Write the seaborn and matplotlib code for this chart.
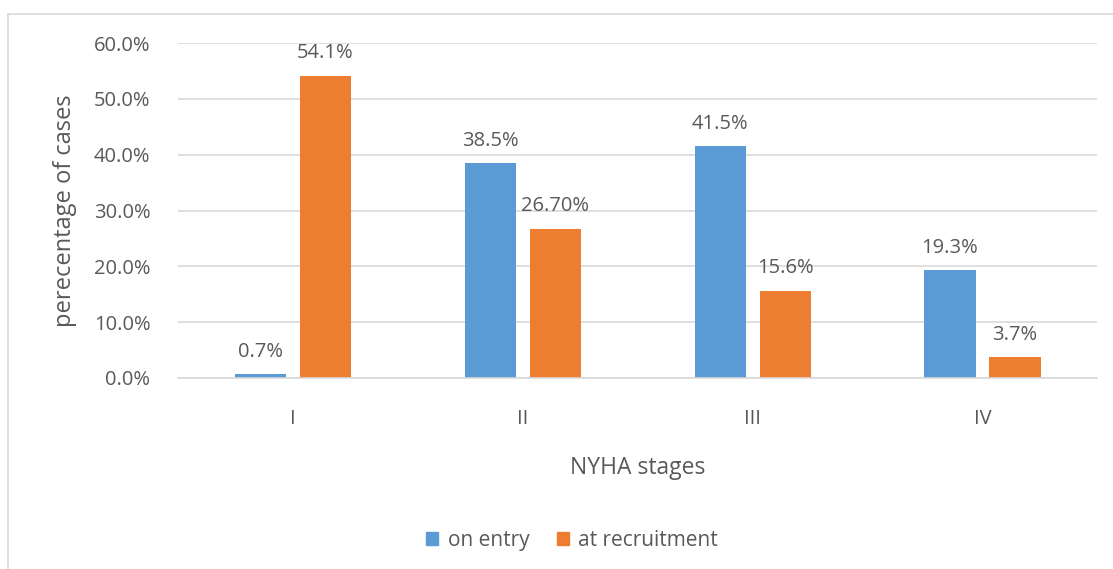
import pandas as pd
import seaborn as sns
import matplotlib.pyplot as plt
from matplotlib.patches import Rectangle

# chart values
stages = ['I', 'II', 'III', 'IV']
on_entry = [0.7, 38.5, 41.5, 19.3]
at_recruitment = [54.1, 26.7, 15.6, 3.7]
entry_labels = ['0.7%', '38.5%', '41.5%', '19.3%']
recruit_labels = ['54.1%', '26.70%', '15.6%', '3.7%']
series = ['on entry', 'at recruitment']
yticks = [0, 10, 20, 30, 40, 50, 60]

df = pd.DataFrame({
    'stage': stages * 2,
    'value': on_entry + at_recruitment,
    'series': [series[0]] * 4 + [series[1]] * 4,
})

sns.set_style('white')
plt.rcParams['font.family'] = ['Open Sans', 'DejaVu Sans']
grey = '#595959'
colors = ['#5B9BD5', '#ED7D31']

fig = plt.figure(figsize=(11.13, 5.69), dpi=100)
ax = fig.add_axes([0.160, 0.3357, 0.826, 0.5887])

sns.barplot(data=df, x='stage', y='value', hue='series', order=stages,
            hue_order=series, palette=colors, saturation=1,
            width=0.566, gap=0.215, linewidth=0, ax=ax, legend=False)

for cont, labs in zip(ax.containers, [entry_labels, recruit_labels]):
    ax.bar_label(cont, labels=labs, padding=9, fontsize=14.5, color=grey)

ax.set_ylim(0, 60)
ax.set_xlim(-0.5, 3.5)
ax.set_yticks(yticks)
ax.set_yticklabels([f'{v:.1f}%' for v in yticks], fontsize=14.5, color=grey)
ax.tick_params(axis='x', labelsize=14.5, labelcolor=grey, pad=22, length=0)
ax.tick_params(axis='y', pad=20, length=0)
ax.yaxis.grid(True, color='#D9D9D9', linewidth=1.2)
ax.set_axisbelow(True)
for s in ['top', 'right', 'left']:
    ax.spines[s].set_visible(False)
ax.spines['bottom'].set_color('#D9D9D9')
ax.spines['bottom'].set_linewidth(1.2)

ax.set_xlabel('NYHA stages', fontsize=16.5, color=grey, labelpad=20)
ax.set_ylabel('perecentage of cases', fontsize=17, color=grey, labelpad=12)

handles = [Rectangle((0, 0), 1, 1, color=c) for c in colors]
fig.legend(handles, series, loc='center', bbox_to_anchor=(0.514, 0.05),
           ncol=2, frameon=False, fontsize=15, labelcolor=grey,
           handlelength=0.6, handleheight=0.6, handletextpad=0.45,
           columnspacing=1.3)

# outer chart border
fig.patches.append(Rectangle((8 / 1113, -0.1), 1.2, 1 - 14 / 569 + 0.1,
                             transform=fig.transFigure, fill=False,
                             edgecolor='#D9D9D9', linewidth=1.2))

fig.savefig('out.png', dpi=100)
